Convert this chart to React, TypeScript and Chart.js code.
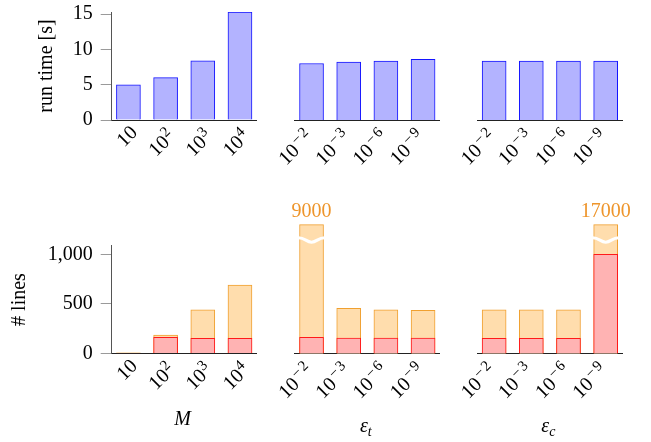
import React, { useEffect, useRef } from "react";
import { Chart, registerables } from "chart.js";

Chart.register(...registerables);

// ---------- data ----------
// tick labels written as base^exponent
const mLabels = ["10", "10^2", "10^3", "10^4"];
const epsLabels = ["10^-2", "10^-3", "10^-6", "10^-9"];

const runTimeM = [5.0, 6.0, 8.4, 15.3];
const runTimeEpsT = [8.0, 8.2, 8.35, 8.6];
const runTimeEpsC = [8.35, 8.35, 8.35, 8.35];

const linesAllM = [8, 187, 442, 690];
const linesKeptM = [5, 163, 153, 153];
const linesAllEpsT = [9000, 456, 442, 436];
const linesKeptEpsT = [163, 156, 156, 156];
const linesAllEpsC = [442, 442, 442, 17000];
const linesKeptEpsC = [153, 153, 153, 1000];

const runTimeTicks = [0, 5, 10, 15];
const linesTicks = [0, 500, 1000];
const runTimeMax = 15.3;
const linesMax = 1090;
const linesCap = 1300;

// ---------- style ----------
const FONT = "'Liberation Serif', 'DejaVu Serif', serif";
const BLUE = "#1414ff";
const BLUE_FILL = "#b3b3ff";
const RED = "#ff1a1a";
const RED_FILL = "#ffb3b3";
const ORANGE = "#f0a030";
const ORANGE_FILL = "#ffddad";
const ORANGE_TEXT = "#ee952b";

type PanelProps = {
  left: number;
  top: number;
  width: number;
  height: number;
  labels: string[];
  datasets: any[];
  yMax: number;
  yTicks: number[];
  yTitle?: string;
  yAxisWidth?: number;
  xTitle?: { main: string; sub?: string; dy: number };
};

const breakPlugin = {
  id: "breakPlugin",
  afterDatasetsDraw(chart: any) {
    const ctx = chart.ctx;
    chart.data.datasets.forEach((ds: any, di: number) => {
      const raw: number[] | undefined = ds.rawValues;
      if (!raw) return;
      const meta = chart.getDatasetMeta(di);
      meta.data.forEach((bar: any, i: number) => {
        if (raw[i] <= linesCap) return;
        const { x, y, width } = bar.getProps(["x", "y", "width"], true);
        const x0 = x - width / 2 - 1;
        const x1 = x + width / 2 + 1;
        const w = x1 - x0;
        const yw = y + 15;
        ctx.save();
        ctx.strokeStyle = "#ffffff";
        ctx.lineWidth = 3;
        ctx.beginPath();
        ctx.moveTo(x0, yw - 2);
        ctx.bezierCurveTo(x0 + w * 0.25, yw - 2, x0 + w * 0.3, yw + 2.5, x0 + w * 0.5, yw + 2.5);
        ctx.bezierCurveTo(x0 + w * 0.7, yw + 2.5, x0 + w * 0.75, yw - 2, x1, yw - 2);
        ctx.stroke();
        ctx.fillStyle = ORANGE_TEXT;
        ctx.font = `20px ${FONT}`;
        ctx.textAlign = "center";
        ctx.textBaseline = "alphabetic";
        ctx.fillText(String(raw[i]), x, y - 8);
        ctx.restore();
      });
    });
  },
};

function drawPowerLabel(ctx: any, label: string, px: number, axisY: number) {
  const [base, expRaw] = label.split("^");
  const neg = !!expRaw && expRaw.startsWith("-");
  const digits = expRaw ? expRaw.replace("-", "") : "";
  // position of the end of the label's baseline, relative to tick
  let ox = 10, oy = 13.5;
  if (expRaw && !neg) { ox = 10.5; oy = 17.5; }
  if (neg) { ox = 2.5; oy = 18; }
  ctx.save();
  ctx.translate(px + ox, axisY + oy);
  ctx.rotate(-Math.PI / 4);
  ctx.fillStyle = "#000";
  ctx.textAlign = "left";
  ctx.textBaseline = "alphabetic";
  ctx.font = `20px ${FONT}`;
  const bw = ctx.measureText(base).width;
  ctx.font = `15px ${FONT}`;
  const minusW = neg ? ctx.measureText("−").width + 3 : 0;
  const dw = digits ? ctx.measureText(digits).width + 0.5 : 0;
  const ew = expRaw ? minusW + dw : 0;
  const start = -(bw + ew);
  ctx.font = `20px ${FONT}`;
  ctx.fillText(base, start, 0);
  if (expRaw) {
    const raise = 7;
    ctx.font = `15px ${FONT}`;
    let x = start + bw + 0.5;
    if (neg) {
      ctx.fillText("−", x + 1.5, -raise);
      x += minusW;
    }
    ctx.fillText(digits, x, -raise);
  }
  ctx.restore();
}

function Panel(p: PanelProps) {
  const ref = useRef<HTMLCanvasElement>(null);
  const yW = p.yAxisWidth ?? 0;
  const cx = Math.floor(p.left) - 110;
  const cy = Math.floor(p.top) - 60;
  const cw = Math.ceil(p.width) + 150;
  const ch = Math.ceil(p.height) + 170;
  const xAxisH = 70;

  useEffect(() => {
    const padLeft = p.left - cx - yW;
    const padTop = p.top - cy;
    const padRight = cx + cw - (p.left + p.width);
    const padBottom = cy + ch - (p.top + p.height) - xAxisH;
    const xt = p.xTitle;
    const labelPlugin = {
      id: "labelPlugin",
      afterDraw(chart: any) {
        const ctx = chart.ctx;
        const a = chart.chartArea;
        const xs = chart.scales.x;
        p.labels.forEach((lab, i) => {
          drawPowerLabel(ctx, lab, xs.getPixelForValue(i + 1), a.bottom);
        });
        if (!xt) return;
        const cxm = (a.left + a.right) / 2;
        const by = a.bottom + xt.dy;
        ctx.save();
        ctx.fillStyle = "#000";
        ctx.textBaseline = "alphabetic";
        ctx.textAlign = "left";
        ctx.font = `italic 20px ${FONT}`;
        const mw = ctx.measureText(xt.main).width;
        ctx.font = `italic 14px ${FONT}`;
        const sw = xt.sub ? ctx.measureText(xt.sub).width : 0;
        const start = cxm - (mw + sw) / 2 - 1.5;
        ctx.font = `italic 20px ${FONT}`;
        ctx.fillText(xt.main, start, by);
        if (xt.sub) {
          ctx.font = `italic 14px ${FONT}`;
          ctx.fillText(xt.sub, start + mw, by + 4);
        }
        ctx.restore();
      },
    };

    const chart = new Chart(ref.current as HTMLCanvasElement, {
      type: "bar",
      data: { datasets: p.datasets },
      options: {
        animation: false,
        responsive: false,
        maintainAspectRatio: false,
        layout: {
          padding: { left: padLeft, top: padTop, right: padRight, bottom: padBottom },
        },
        plugins: { legend: { display: false }, tooltip: { enabled: false } },
        scales: {
          x: {
            type: "linear",
            offset: false,
            min: 0.55,
            max: 4.45,
            afterBuildTicks: (s: any) => {
              s.ticks = [1, 2, 3, 4].map((v) => ({ value: v }));
            },
            afterFit: (s: any) => {
              s.height = xAxisH;
            },
            grid: { display: false, drawTicks: false, offset: false },
            border: { display: true, color: "#222", width: 1 },
            ticks: { display: false },
          },
          y: {
            display: yW > 0,
            min: 0,
            max: p.yMax,
            afterBuildTicks: (s: any) => {
              s.ticks = p.yTicks.map((v) => ({ value: v }));
            },
            afterFit: (s: any) => {
              s.width = yW;
            },
            grid: {
              display: true,
              drawOnChartArea: false,
              drawTicks: true,
              tickLength: 11,
              color: "#9a9a9a",
            },
            border: { display: true, color: "#555", width: 1 },
            ticks: {
              padding: 8,
              color: "#000",
              font: { family: FONT, size: 20 },
              callback: (v: any) => Number(v).toLocaleString("en-US"),
            },
            title: {
              display: !!p.yTitle,
              text: p.yTitle ?? "",
              color: "#000",
              font: { family: FONT, size: 20 },
              padding: 0,
            },
          },
        },
      } as any,
      plugins: [breakPlugin, labelPlugin],
    });
    return () => chart.destroy();
  }, []);

  return (
    <canvas
      ref={ref}
      width={cw}
      height={ch}
      style={{ position: "absolute", left: cx, top: cy, width: cw, height: ch }}
    />
  );
}

const pts = (vals: number[]) => vals.map((v, i) => ({ x: i + 1, y: Math.min(v, linesCap) }));

const runDs = (vals: number[]) => [
  {
    data: pts(vals),
    backgroundColor: BLUE_FILL,
    borderColor: BLUE,
    borderWidth: 1,
    barThickness: 24,
    grouped: false,
  },
];

const linesDs = (kept: number[], all: number[]) => [
  {
    data: pts(kept),
    backgroundColor: RED_FILL,
    borderColor: RED,
    borderWidth: 1,
    barThickness: 24,
    grouped: false,
    order: 0,
  },
  {
    data: pts(all),
    rawValues: all,
    backgroundColor: ORANGE_FILL,
    borderColor: ORANGE,
    borderWidth: 1,
    barThickness: 24,
    grouped: false,
    clip: false,
    order: 1,
  },
];

const COLS = [111.7, 294.8, 477.4];
const PW = 145;
const TOP_T = 12;
const TOP_B = 120;
const BOT_T = 245.5;
const BOT_B = 353.5;

export default function App() {
  return (
    <div
      style={{
        position: "fixed",
        left: 0,
        top: 0,
        width: 651,
        height: 442,
        background: "#fff",
        overflow: "hidden",
      }}
    >
      <Panel left={COLS[0]} top={TOP_T} width={PW} height={TOP_B - TOP_T} labels={mLabels}
        datasets={runDs(runTimeM)} yMax={runTimeMax} yTicks={runTimeTicks}
        yTitle="run time [s]" yAxisWidth={77} />
      <Panel left={COLS[1]} top={TOP_T} width={PW} height={TOP_B - TOP_T} labels={epsLabels}
        datasets={runDs(runTimeEpsT)} yMax={runTimeMax} yTicks={runTimeTicks} />
      <Panel left={COLS[2]} top={TOP_T} width={PW} height={TOP_B - TOP_T} labels={epsLabels}
        datasets={runDs(runTimeEpsC)} yMax={runTimeMax} yTicks={runTimeTicks} />

      <Panel left={COLS[0]} top={BOT_T} width={PW} height={BOT_B - BOT_T} labels={mLabels}
        datasets={linesDs(linesKeptM, linesAllM)} yMax={linesMax} yTicks={linesTicks}
        yTitle="# lines" yAxisWidth={104.4} xTitle={{ main: "M", dy: 71.5 }} />
      <Panel left={COLS[1]} top={BOT_T} width={PW} height={BOT_B - BOT_T} labels={epsLabels}
        datasets={linesDs(linesKeptEpsT, linesAllEpsT)} yMax={linesMax} yTicks={linesTicks}
        xTitle={{ main: "ε", sub: "t", dy: 78 }} />
      <Panel left={COLS[2]} top={BOT_T} width={PW} height={BOT_B - BOT_T} labels={epsLabels}
        datasets={linesDs(linesKeptEpsC, linesAllEpsC)} yMax={linesMax} yTicks={linesTicks}
        xTitle={{ main: "ε", sub: "c", dy: 78 }} />
    </div>
  );
}
